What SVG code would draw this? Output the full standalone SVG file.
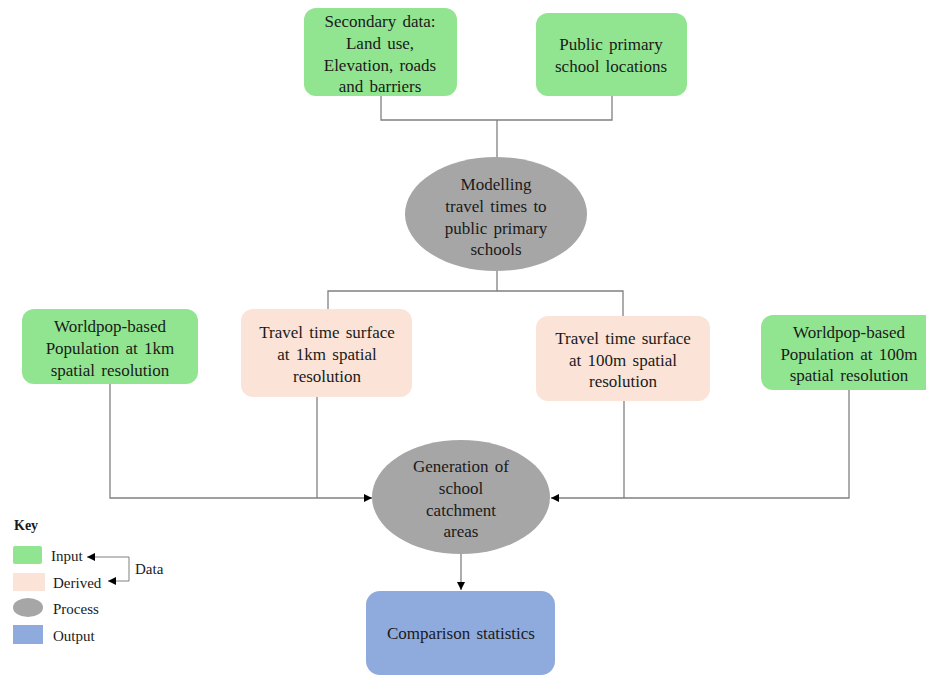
<svg xmlns="http://www.w3.org/2000/svg" width="926" height="675" viewBox="0 0 926 675" font-family="'Liberation Serif', 'DejaVu Serif', serif">
<defs>
<style>
text{font-family:'Liberation Serif','DejaVu Serif',serif;font-size:17px;fill:#1a1a1a;text-anchor:middle;word-spacing:2px}
.lg{text-anchor:start}
.in{fill:#91E590}
.dv{fill:#FBE4D7}
.pr{fill:#A6A6A6}
.out{fill:#8FAADC}
.ln{fill:none;stroke:#808080;stroke-width:1.3}
.la{fill:none;stroke:#808080;stroke-width:1.3;marker-end:url(#ah)}
</style>
<marker id="ah" viewBox="0 0 10 10" refX="10" refY="5" markerWidth="8" markerHeight="8" markerUnits="userSpaceOnUse" orient="auto">
<path d="M0,0 L10,5 L0,10 z" fill="#000"/>
</marker>
</defs>
<rect width="926" height="675" fill="#fff"/>
<g id="connectors">
<path class="ln" d="M381,96 V120 H612 V96"/>
<path class="ln" d="M497,120 V158"/>
<path class="ln" d="M497,271 V291 H328 V309"/>
<path class="ln" d="M497,291 H623 V316"/>
<path class="la" d="M110,384 V498 H372"/>
<path class="ln" d="M317,397 V498"/>
<path class="la" d="M849,390 V498 H551"/>
<path class="ln" d="M624,401 V498"/>
<path class="la" d="M461,554 V590"/>
</g>
<g id="n-secondary">
<rect class="in" x="304" y="8" width="153" height="88" rx="12"/>
<text x="380" y="27">Secondary data:</text>
<text x="380" y="49">Land use,</text>
<text x="380" y="71">Elevation, roads</text>
<text x="380" y="92">and barriers</text>
</g>
<g id="n-schools">
<rect class="in" x="536" y="13" width="151" height="83" rx="12"/>
<text x="611" y="50">Public primary</text>
<text x="611" y="72">school locations</text>
</g>
<g id="n-modelling">
<ellipse class="pr" cx="496" cy="214" rx="91" ry="57"/>
<text x="496" y="190">Modelling</text>
<text x="496" y="212">travel times to</text>
<text x="496" y="234">public primary</text>
<text x="496" y="255">schools</text>
</g>
<g id="n-pop1km">
<rect class="in" x="22" y="309" width="176" height="75" rx="12"/>
<text x="110" y="332">Worldpop-based</text>
<text x="110" y="354">Population at 1km</text>
<text x="110" y="376">spatial resolution</text>
</g>
<g id="n-tt1km">
<rect class="dv" x="241" y="309" width="171" height="88" rx="12"/>
<text x="327" y="338">Travel time surface</text>
<text x="327" y="360">at 1km spatial</text>
<text x="327" y="382">resolution</text>
</g>
<g id="n-tt100m">
<rect class="dv" x="536" y="316" width="174" height="85" rx="12"/>
<text x="623" y="344">Travel time surface</text>
<text x="623" y="366">at 100m spatial</text>
<text x="623" y="387">resolution</text>
</g>
<g id="n-pop100m">
<rect class="in" x="761" y="315" width="178" height="75" rx="12"/>
<text x="849" y="338">Worldpop-based</text>
<text x="849" y="360">Population at 100m</text>
<text x="849" y="381">spatial resolution</text>
</g>
<g id="n-catchment">
<ellipse class="pr" cx="461" cy="497" rx="89" ry="57"/>
<text x="461" y="472">Generation of</text>
<text x="461" y="494">school</text>
<text x="461" y="516">catchment</text>
<text x="461" y="537">areas</text>
</g>
<g id="n-comparison">
<rect class="out" x="366" y="591" width="189" height="84" rx="14"/>
<text x="461" y="639">Comparison statistics</text>
</g>
<g id="key">
<text class="lg" x="14" y="530" style="font-weight:bold;font-size:14px">Key</text>
<rect class="in" x="13" y="546" width="29" height="18" rx="2"/>
<rect class="dv" x="13" y="573" width="32" height="18"/>
<ellipse class="pr" cx="28" cy="607.5" rx="15" ry="9.5"/>
<rect class="out" x="13" y="625" width="30" height="19"/>
<text class="lg" x="51" y="561" style="font-size:15px">Input</text>
<text class="lg" x="53" y="588" style="font-size:15px">Derived</text>
<text class="lg" x="53" y="614" style="font-size:15px">Process</text>
<text class="lg" x="53" y="641" style="font-size:15px">Output</text>
<text class="lg" x="135" y="574" style="font-size:15px">Data</text>
<path d="M129,557 H87" fill="none" stroke="#808080" stroke-width="1" marker-end="url(#ah)"/>
<path d="M129,557 V581 H108" fill="none" stroke="#808080" stroke-width="1" marker-end="url(#ah)"/>
</g>
</svg>
